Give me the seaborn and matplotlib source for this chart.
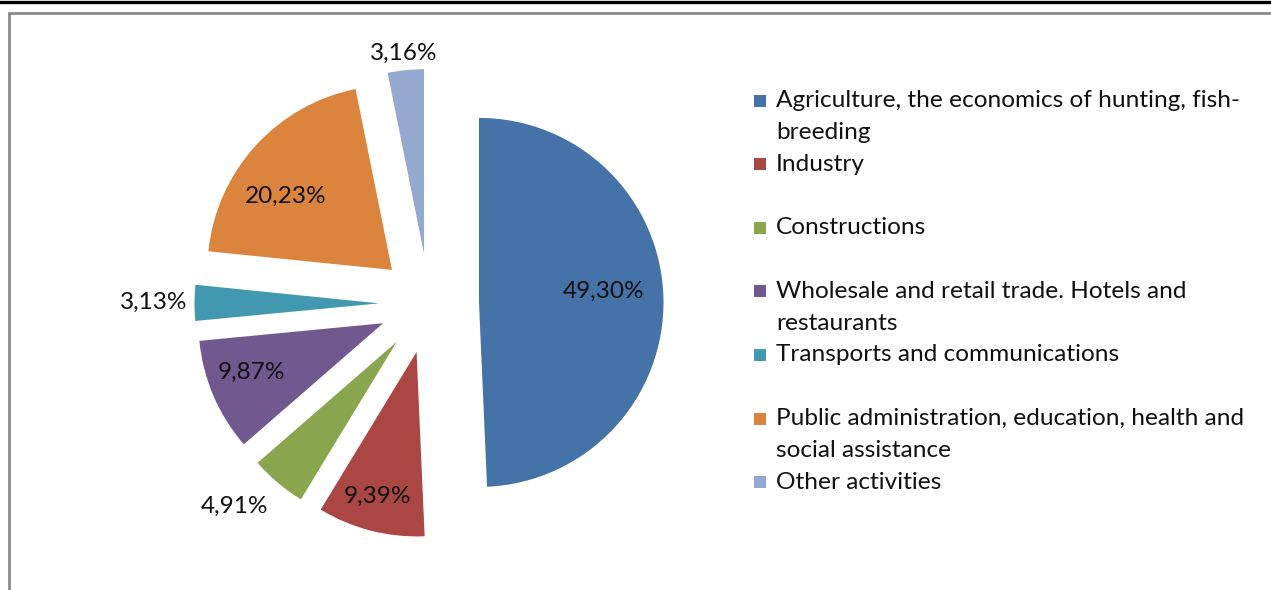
import numpy as np
import matplotlib
matplotlib.use("Agg")
import matplotlib.pyplot as plt
from matplotlib.lines import Line2D
from matplotlib.patches import Rectangle
import seaborn as sns

# Employment structure by activity (%)
categories = [
    "Agriculture, the economics of hunting, fish-\nbreeding",
    "Industry",
    "Constructions",
    "Wholesale and retail trade. Hotels and\nrestaurants",
    "Transports and communications",
    "Public administration, education, health and\nsocial assistance",
    "Other activities",
]
shares = [49.30, 9.39, 4.91, 9.87, 3.13, 20.23, 3.16]
share_labels = ["49,30%", "9,39%", "4,91%", "9,87%", "3,13%", "20,23%", "3,16%"]

sns.set_theme(style="white")
plt.rcParams["font.family"] = ["Lato", "DejaVu Sans"]

palette = sns.color_palette(["#4572A7", "#AA4643", "#89A54E", "#71588F",
                             "#4198AF", "#DB843D", "#93A9CF"])

W, H = 1271, 590
fig = plt.figure(figsize=(W / 100, H / 100), dpi=100)
fig.patch.set_facecolor("white")

# pie axes: radius 1 maps to R pixels
R = 184.5
cx, cy = 429.0, H - 303.5
half = 280.0
ax = fig.add_axes([(cx - half) / W, (cy - half) / H, 2 * half / W, 2 * half / H])

explode = [50.0 / R] * len(shares)
wedges, _ = ax.pie(shares, explode=explode, colors=palette, startangle=90,
                   counterclock=False, radius=1.0,
                   wedgeprops=dict(linewidth=0))
ax.set_xlim(-half / R, half / R)
ax.set_ylim(-half / R, half / R)
ax.set_aspect("equal")
ax.axis("off")

# label placement relative to each wedge apex: distance (radii), angle nudge (deg)
label_dist = [0.68, 0.81, 1.25, 0.76, 1.22, 0.70, 1.09]
label_turn = [4.0, -0.8, -4.4, -2.7, 0.0, 7.7, 0.0]
fs = 17.6
for w, txt, d, t in zip(wedges, share_labels, label_dist, label_turn):
    th = np.deg2rad((w.theta1 + w.theta2) / 2 + t)
    x0, y0 = w.center
    ax.text(x0 + d * np.cos(th), y0 + d * np.sin(th), txt,
            ha="center", va="center", fontsize=fs, color="#111111",
            clip_on=False)

# legend with uniform slots; first line aligned with the swatch
slot = 63.6
y_first = 100.5
for i, (lab, col) in enumerate(zip(categories, palette)):
    yc = y_first + slot * i
    fig.add_artist(Rectangle((754 / W, (H - yc - 6) / H), 12 / W, 12 / H,
                             transform=fig.transFigure, facecolor=col,
                             edgecolor="none"))
    lines = lab.split("\n")
    for k, line in enumerate(lines):
        fig.text(776 / W, (H - yc - 32 * k) / H, line, ha="left",
                 va="center", fontsize=fs, color="#111111")

# page rule and chart frame
fig.add_artist(Line2D([0, 1], [(H - 1.5) / H] * 2, transform=fig.transFigure,
                      color="black", linewidth=2.4))
fig.add_artist(Line2D([8.5 / W, 1], [(H - 12.5) / H] * 2,
                      transform=fig.transFigure, color="#8c8c8c", linewidth=2))
fig.add_artist(Line2D([9 / W] * 2, [0, (H - 12.5) / H],
                      transform=fig.transFigure, color="#8c8c8c", linewidth=2))

fig.savefig("out.png", dpi=100, facecolor="white")
